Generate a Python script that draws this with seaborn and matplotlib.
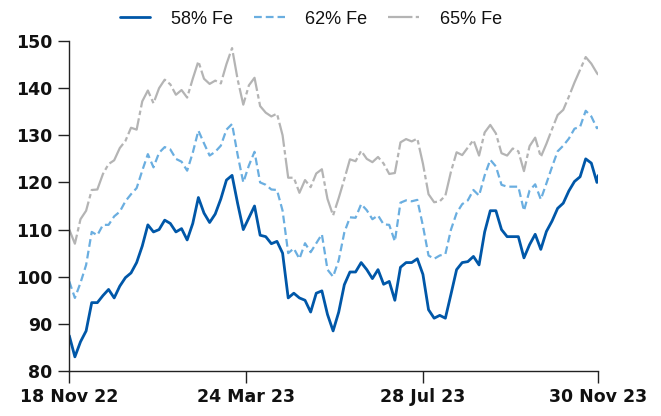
import pandas as pd
import matplotlib
matplotlib.use('Agg')
import matplotlib.pyplot as plt
import matplotlib.dates as mdates
import seaborn as sns

# DADOS (um ponto a cada 4 dias, de 18 Nov 22 a 30 Nov 23)
fe58 = [87.5, 83.0, 86.2, 88.5, 94.5, 94.5, 96.0, 97.3,
        95.5, 98.0, 99.8, 100.8, 103.0, 106.5, 111.0, 109.5,
        110.0, 112.0, 111.3, 109.5, 110.2, 107.8, 111.3, 116.8,
        113.5, 111.5, 113.3, 116.5, 120.5, 121.5, 115.5, 110.0,
        112.5, 115.0, 108.8, 108.5, 107.0, 107.5, 105.0, 95.5,
        96.5, 95.5, 95.0, 92.5, 96.5, 97.0, 92.0, 88.5,
        92.5, 98.3, 101.0, 101.0, 103.0, 101.5, 99.6, 101.5,
        98.4, 99.0, 95.0, 102.0, 103.0, 103.0, 103.8, 100.5,
        93.0, 91.2, 91.8, 91.2, 96.3, 101.5, 103.0, 103.2,
        104.3, 102.5, 109.5, 114.0, 114.0, 110.0, 108.5, 108.5,
        108.5, 104.0, 106.8, 109.0, 105.8, 109.6, 111.8, 114.5,
        115.6, 118.2, 120.2, 121.2, 125.0, 124.1, 120.0, 121.5]

fe62 = [99.0, 95.5, 98.7, 102.5, 109.5, 108.8, 111.0, 111.0,
        112.8, 113.8, 116.0, 117.5, 118.8, 122.5, 126.0, 123.2,
        126.3, 127.5, 127.0, 125.0, 124.4, 122.5, 126.3, 131.0,
        128.3, 125.7, 126.5, 127.8, 131.2, 132.4, 125.8, 120.0,
        123.6, 126.5, 120.0, 119.5, 118.5, 118.4, 114.0, 105.0,
        106.0, 103.8, 107.1, 105.2, 107.1, 109.0, 101.5, 100.0,
        103.5, 109.4, 112.6, 112.5, 115.4, 114.1, 112.2, 113.0,
        111.1, 111.0, 107.5, 115.7, 116.2, 116.0, 116.3, 110.8,
        104.5, 103.8, 104.5, 104.8, 110.0, 113.5, 115.4, 116.2,
        118.4, 117.2, 121.5, 124.8, 123.4, 119.5, 119.1, 119.1,
        119.1, 114.0, 118.3, 119.6, 116.4, 119.8, 123.3, 126.6,
        127.8, 129.3, 131.4, 131.8, 135.2, 134.0, 131.5, 131.8]

fe65 = [110.0, 107.0, 112.2, 114.0, 118.4, 118.5, 121.8, 123.9,
        124.7, 127.3, 128.8, 131.6, 131.2, 137.2, 139.5, 136.8,
        140.0, 141.8, 140.8, 138.6, 139.6, 138.0, 142.0, 145.7,
        142.0, 140.9, 141.6, 141.0, 145.1, 148.5, 141.8, 136.5,
        140.6, 142.2, 136.2, 134.8, 134.0, 134.6, 130.0, 121.0,
        121.0, 117.8, 120.5, 119.0, 121.9, 122.8, 116.5, 113.0,
        116.7, 120.7, 124.9, 124.5, 126.7, 125.0, 124.3, 125.4,
        124.0, 121.8, 122.0, 128.5, 129.2, 128.7, 129.3, 124.0,
        117.5, 115.8, 116.0, 117.2, 122.3, 126.4, 125.8, 127.4,
        129.0, 125.7, 130.6, 132.2, 130.4, 126.2, 125.7, 127.2,
        126.6, 122.4, 127.7, 129.5, 125.4, 128.2, 131.3, 134.3,
        135.4, 138.2, 141.2, 143.9, 146.6, 145.2, 143.2, 142.8]

datas = list(pd.date_range('2022-11-18', '2023-11-29', freq='4D')) + [pd.Timestamp('2023-11-30')]
ticks_x = pd.to_datetime(['2022-11-18', '2023-03-24', '2023-07-28', '2023-11-30'])
ticks_y = [80, 90, 100, 110, 120, 130, 140, 150]

df = pd.DataFrame({'data': datas, '58% Fe': fe58, '62% Fe': fe62, '65% Fe': fe65})

sns.set_style('white')
plt.rcParams['font.family'] = ['DejaVu Sans']

fig = plt.figure(figsize=(6.61, 4.16), dpi=100)
ax = fig.add_axes([0.1048, 0.1082, 0.8004, 0.7932])

sns.lineplot(data=df, x='data', y='58% Fe', ax=ax, color='#0057A8', linewidth=2.0, label='58% Fe')
sns.lineplot(data=df, x='data', y='62% Fe', ax=ax, color='#6AAEE0', linewidth=1.6,
             dashes=(3.5, 1.8), label='62% Fe')
sns.lineplot(data=df, x='data', y='65% Fe', ax=ax, color='#B4B4B4', linewidth=1.6,
             dashes=(11, 1.5, 2, 1.5), label='65% Fe')

ax.set_xlim(ticks_x[0], ticks_x[-1])
ax.set_ylim(80, 150)
ax.set_xticks(ticks_x)
ax.xaxis.set_major_formatter(mdates.DateFormatter('%d %b %y'))
ax.set_yticks(ticks_y)
ax.set_xlabel('')
ax.set_ylabel('')

for s in ['top', 'right']:
    ax.spines[s].set_visible(False)
for s in ['left', 'bottom']:
    ax.spines[s].set_color('#222222')
    ax.spines[s].set_linewidth(1.0)

ax.tick_params(axis='y', length=8, width=1, color='#222222', pad=4, left=True)
ax.tick_params(axis='x', length=8.5, width=1, color='#222222', pad=4, bottom=True)
for lbl in ax.get_xticklabels() + ax.get_yticklabels():
    lbl.set_fontsize(12.5)
    lbl.set_fontweight('bold')
    lbl.set_color('#111111')

leg = ax.legend(loc='center', bbox_to_anchor=(0.47, 0.954), bbox_transform=fig.transFigure,
                ncol=3, frameon=False, handlelength=1.7, handletextpad=1.15, columnspacing=1.15,
                prop={'family': 'Liberation Sans', 'size': 13})
for t in leg.get_texts():
    t.set_color('#111111')

fig.savefig('out.png', dpi=100)
